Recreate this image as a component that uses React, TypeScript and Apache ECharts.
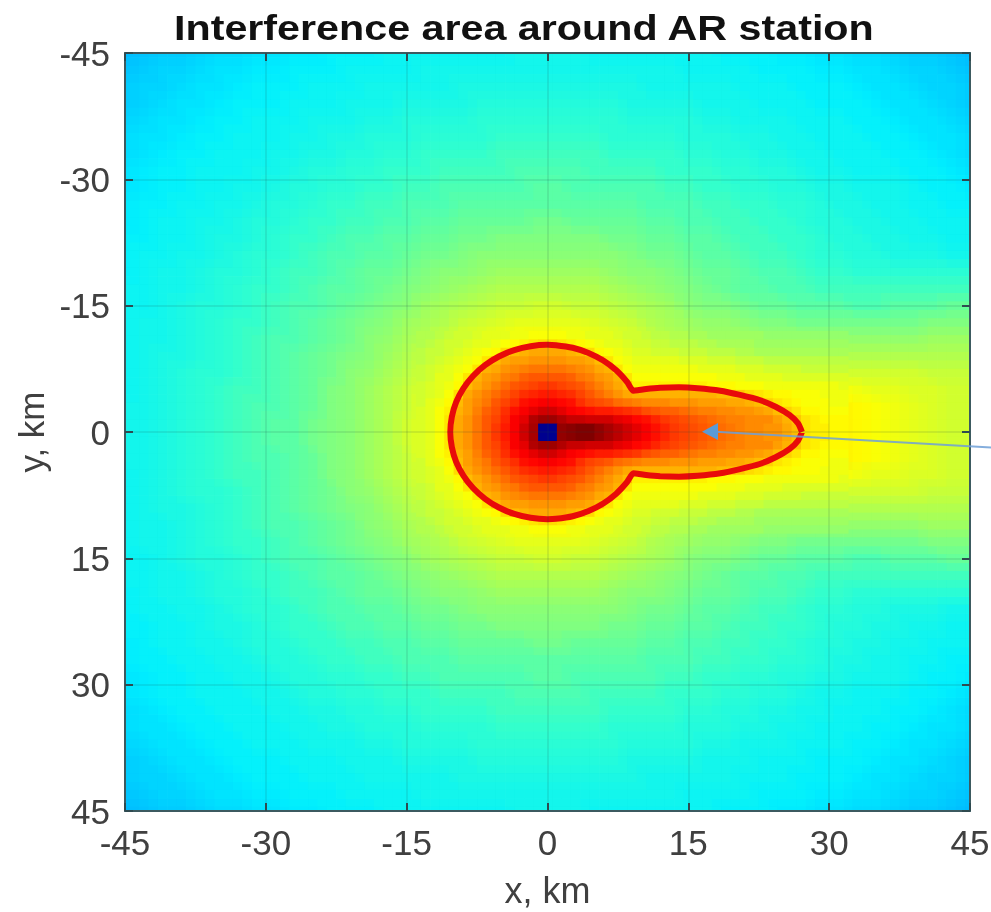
import React, { useEffect, useRef } from "react";
import * as echarts from "echarts";

const FONT = "'Liberation Sans', Arial, sans-serif";
const titleText = "Interference area around AR station";
const xName = "x, km";
const yName = "y, km";
const tickMin = -45;
const tickMax = 45;
const tickStep = 15;

// Jet colour stops, evenly spaced over the level range
const jetColors = ["#00008F", "#0000BF", "#0000FF", "#0040FF", "#0080FF", "#00BEFF", "#00F0FF", "#30FFCF", "#80FF80", "#BFFF40", "#FFFF00", "#FFBF00", "#FF8000", "#FF4000", "#FF0000", "#BF0000", "#800000"];

// Field level (0-100) in 2 km cells, rows from y=-46..-44 to y=-2..0, columns from x=-46 to x=46.
// The picture is symmetric about y=0, so each row stands for its mirror too.
const coarseCellKm = 2;
const coarseStart = -46;
const coarseRows = [
  [31,32,33,33,34,35,35,36,36,37,37,38,38,38,39,39,39,39,39,39,39,40,40,40,40,39,39,39,39,39,39,39,38,38,38,37,37,36,36,35,35,34,33,33,32,31],
  [32,33,34,34,35,36,36,37,37,38,38,38,39,39,39,39,40,40,40,40,40,40,40,40,40,40,40,40,40,40,39,39,39,39,38,38,38,37,37,36,36,35,34,34,33,32],
  [33,34,34,35,36,36,37,38,38,38,39,39,39,40,40,40,40,40,41,41,41,41,41,41,41,41,41,41,40,40,40,40,40,39,39,39,38,38,38,37,36,36,35,34,34,33],
  [33,34,35,36,36,37,38,38,38,39,39,39,40,40,40,41,41,41,41,42,42,42,42,42,42,42,42,41,41,41,41,40,40,40,39,39,39,38,38,38,37,36,36,35,34,33],
  [34,35,36,36,37,38,38,39,39,39,40,40,40,41,41,42,42,42,42,43,43,43,43,43,43,43,43,42,42,42,42,41,41,40,40,40,39,39,39,38,38,37,36,36,35,34],
  [35,36,36,37,38,38,39,39,39,40,40,41,41,42,42,42,43,43,43,43,44,44,44,44,44,44,43,43,43,43,42,42,42,41,41,40,40,39,39,39,38,38,37,36,36,35],
  [35,36,37,38,38,39,39,39,40,40,41,41,42,42,43,43,44,44,44,44,45,45,45,45,45,45,44,44,44,44,43,43,42,42,41,41,40,40,39,39,39,38,38,37,36,35],
  [36,37,38,38,39,39,39,40,40,41,42,42,43,43,44,44,44,45,45,45,45,46,46,46,46,45,45,45,45,44,44,44,43,43,42,42,41,40,40,39,39,39,38,38,37,36],
  [36,37,38,38,39,39,40,40,41,42,42,43,43,44,44,45,45,46,46,46,46,46,47,47,46,46,46,46,46,45,45,44,44,43,43,42,42,41,41,40,40,40,39,38,38,37],
  [37,38,38,39,39,40,40,41,42,42,43,44,44,45,45,46,46,46,47,47,47,47,47,47,47,47,47,47,46,46,46,45,45,44,44,43,43,42,41,41,40,40,39,39,38,38],
  [37,38,39,39,40,40,41,42,42,43,44,44,45,45,46,46,47,47,48,48,48,48,49,49,48,48,48,48,47,47,46,46,45,45,44,44,43,42,42,41,41,40,40,39,39,39],
  [38,38,39,39,40,41,41,42,43,44,44,45,46,46,47,47,48,48,49,49,50,50,50,50,50,50,49,49,48,48,47,47,46,45,45,44,44,43,42,42,41,41,40,40,39,39],
  [38,39,39,40,40,41,42,43,43,44,45,46,46,47,47,48,49,49,50,51,51,51,51,51,51,51,51,50,49,49,48,47,47,46,45,45,44,43,43,42,42,41,41,41,40,40],
  [38,39,40,40,41,42,42,43,44,45,45,46,47,48,48,49,50,51,51,52,53,53,53,53,53,53,52,51,51,50,49,48,48,47,46,46,45,44,44,43,43,43,43,43,43,43],
  [39,39,40,40,41,42,43,44,44,45,46,47,47,48,49,50,51,52,53,54,55,55,55,55,55,55,54,53,52,51,50,49,48,47,47,46,46,45,45,45,45,45,45,45,45,45],
  [39,39,40,41,42,42,43,44,45,46,46,47,48,49,50,51,53,54,55,56,57,57,58,58,57,57,56,55,54,53,51,50,50,49,48,48,47,47,47,46,46,47,47,47,48,48],
  [39,40,40,41,42,43,44,44,45,46,47,48,49,50,51,53,54,55,57,58,59,60,60,60,60,59,58,57,55,54,53,52,52,51,50,50,49,49,49,49,49,49,49,50,50,50],
  [39,40,40,41,42,43,44,45,46,46,47,48,49,51,52,54,55,57,59,60,61,62,63,63,62,61,60,59,57,55,54,53,53,53,52,52,52,52,52,52,52,52,52,53,53,53],
  [39,40,41,41,42,43,44,45,46,47,48,49,50,51,53,55,57,59,60,62,66,66,68,68,67,66,64,62,61,60,59,58,57,56,56,55,55,55,55,55,55,55,55,55,55,55],
  [39,40,41,42,43,43,44,45,46,47,48,49,51,52,54,56,58,60,62,66,70,72,74,74,72,70,68,66,65,64,63,62,61,60,59,59,59,58,58,58,58,58,58,57,57,57],
  [39,40,41,42,43,44,45,45,46,47,48,50,51,53,55,57,59,61,66,70,74,78,80,80,78,74,72,70,69,68,67,66,66,66,66,66,65,64,62,61,60,60,59,59,58,58],
  [40,40,41,42,43,44,45,46,46,47,48,50,51,53,55,57,60,62,66,72,78,84,90,90,84,80,78,76,74,72,71,70,69,68,67,66,65,65,64,63,62,61,60,59,58,58],
  [40,40,41,42,43,44,45,46,47,47,49,50,51,53,55,58,60,63,68,74,80,90,100,100,98,97,96,92,88,85,82,80,77,74,71,68,66,65,64,63,62,61,60,59,58,58],
];

// Field level in 1 km cells around the station: rows from y=-12..-11 to y=-1..0, columns from x=-14 to x=32.
const fineCellKm = 1;
const fineStartX = -14;
const fineStartY = -12;
const fineRows = [
  [55,55,56,57,58,58,59,60,60,60,61,61,62,62,62,62,61,61,60,60,60,59,58,58,57,56,56,55,55,54,54,53,53,53,53,53,53,52,52,52,52,52,52,52,52,52],
  [55,56,57,58,58,59,60,60,61,62,63,64,65,66,66,65,64,63,62,61,60,60,59,58,58,57,57,56,56,56,55,55,54,54,54,54,53,53,53,53,53,53,53,53,53,53],
  [56,57,57,58,59,60,61,62,63,66,69,70,71,71,71,71,70,69,66,63,62,61,60,59,59,58,58,58,57,57,57,56,56,56,55,55,54,54,54,54,54,54,54,54,54,54],
  [56,57,58,59,60,61,62,65,69,71,72,72,73,73,73,73,72,72,71,69,65,62,61,60,60,60,60,60,59,59,59,58,58,58,57,57,57,56,56,56,56,56,56,56,56,56],
  [57,58,59,60,61,62,65,70,71,73,74,75,76,76,76,76,75,74,73,71,70,65,62,61,61,61,61,61,61,61,60,60,60,60,59,59,59,58,58,58,58,57,57,57,57,57],
  [57,58,60,60,62,65,70,72,73,75,76,78,79,79,79,79,78,76,75,73,72,70,65,62,62,62,62,62,62,62,62,62,61,61,61,60,60,60,60,59,59,59,59,59,59,59],
  [58,59,60,61,63,69,71,73,75,77,79,80,81,82,82,81,80,79,77,75,73,71,69,64,64,64,64,64,64,64,64,63,63,63,62,62,62,61,61,61,61,61,61,61,61,60],
  [58,59,60,62,66,71,73,75,77,79,81,83,84,85,85,84,83,81,79,77,75,73,71,70,70,70,70,70,70,70,70,70,69,69,68,66,65,64,63,63,62,62,62,61,61,61],
  [58,60,61,63,69,72,74,76,79,81,83,86,87,88,88,87,86,83,81,80,79,77,76,75,74,74,74,73,73,73,72,72,72,71,71,70,69,67,65,64,63,62,62,62,61,61],
  [59,60,62,64,70,72,75,78,80,83,86,88,90,92,92,90,88,87,86,85,85,84,83,82,80,79,78,78,77,76,75,75,74,74,73,73,72,71,69,67,65,63,63,62,62,62],
  [59,60,62,65,71,73,76,79,81,84,88,90,95,97,97,95,93,93,92,92,92,90,89,87,86,84,82,81,80,79,78,77,76,75,75,74,74,74,72,70,68,65,64,63,63,63],
  [59,60,62,65,71,73,76,79,82,85,88,92,96,0,0,98,99,100,100,98,96,94,92,90,88,86,84,82,81,80,79,78,77,76,75,74,74,73,73,71,69,65,64,64,63,63],
];

// Red contour, read in km
const contourX = [27.1,26.7,25.8,24.3,22.6,20.5,18.4,16,14,12,10.5,9.6,9.14,8.48,7.32,5.94,4.37,2.68,0.9,0,-1.8,-3.54,-5.18,-6.65,-7.93,-8.96,-9.73,-10.19,-10.35,-10.19,-9.73,-8.96,-7.93,-6.65,-5.18,-3.54,-1.8,0,0.9,2.68,4.37,5.94,7.32,8.48,9.14,9.6,10.5,12,14,16,18.4,20.5,22.6,24.3,25.8,26.7,27.1];
const contourY = [0,-1,-2,-3,-3.8,-4.4,-4.9,-5.2,-5.3,-5.25,-5.1,-4.95,-4.9,-5.94,-7.32,-8.48,-9.38,-10,-10.31,-10.35,-10.19,-9.73,-8.96,-7.93,-6.65,-5.18,-3.54,-1.8,0,1.8,3.54,5.18,6.65,7.93,8.96,9.73,10.19,10.35,10.31,10,9.38,8.48,7.32,5.94,4.9,4.95,5.1,5.25,5.3,5.2,4.9,4.4,3.8,3,2,1,0];

function buildCells(rows: number[][], startX: number, startY: number, size: number) {
  const cells: number[][] = [];
  rows.forEach((row, r) => {
    const y0 = startY + r * size;
    row.forEach((v, c) => {
      const x0 = startX + c * size;
      cells.push([x0, x0 + size, y0, y0 + size, v]);
      cells.push([x0, x0 + size, -y0 - size, -y0, v]);
    });
  });
  return cells;
}

const makeRenderCell = (shiftKm: number, overlapPx: number, opacity: number) => (params: any, api: any) => {
  const a = api.coord([api.value(0) + shiftKm, api.value(2) + shiftKm]);
  const b = api.coord([api.value(1) + shiftKm, api.value(3) + shiftKm]);
  const rect = echarts.graphic.clipRectByRect(
    { x: a[0], y: a[1], width: b[0] - a[0] + overlapPx, height: b[1] - a[1] + overlapPx },
    params.coordSys,
  );
  if (!rect) return undefined;
  return { type: "rect", shape: rect, style: { fill: api.visual("color"), stroke: null, opacity } };
};

export default function App() {
  const ref = useRef<HTMLDivElement>(null);
  useEffect(() => {
    const chart = echarts.init(ref.current!, null, { renderer: "svg" });
    const coarse = buildCells(coarseRows, coarseStart, coarseStart, coarseCellKm);
    const fine = buildCells(fineRows, fineStartX, fineStartY, fineCellKm);
    const axisLabel = { color: "#404040", fontFamily: FONT, fontSize: 35 };
    const edge = { onZero: false, lineStyle: { color: "#3c5a60", width: 2 } };
    const ticks = { inside: true, length: 8, lineStyle: { color: "#2f4a50", width: 2 } };
    const gridLine = { show: true, lineStyle: { color: "rgba(30,60,60,0.11)", width: 2 } };
    const common = { type: "value", min: tickMin, max: tickMax, interval: tickStep, z: 5 };
    const cellSeries = { type: "custom", encode: { x: [0, 1], y: [2, 3] }, silent: true };
    chart.setOption({
      animation: false,
      backgroundColor: "#fff",
      grid: { left: 125, top: 53, width: 845, height: 758, containLabel: false, outerBoundsMode: "none" },
      xAxis: [
        {
          ...common,
          position: "bottom",
          name: xName,
          nameLocation: "middle",
          nameGap: 61,
          nameTextStyle: { color: "#404040", fontFamily: FONT, fontSize: 36 },
          axisLine: edge,
          axisTick: ticks,
          axisLabel: { ...axisLabel, margin: 14 },
          splitLine: gridLine,
        },
        {
          ...common,
          position: "top",
          axisLine: edge,
          axisTick: ticks,
          axisLabel: { show: false },
          splitLine: { show: false },
        },
      ],
      yAxis: [
        {
          ...common,
          inverse: true,
          position: "left",
          name: yName,
          nameLocation: "middle",
          nameGap: 72,
          nameTextStyle: { color: "#404040", fontFamily: FONT, fontSize: 35 },
          axisLine: edge,
          axisTick: ticks,
          axisLabel: { ...axisLabel, margin: 15 },
          splitLine: gridLine,
        },
        {
          ...common,
          inverse: true,
          position: "right",
          axisLine: edge,
          axisTick: ticks,
          axisLabel: { show: false },
          splitLine: { show: false },
        },
      ],
      visualMap: {
        show: false,
        type: "continuous",
        min: 0,
        max: 100,
        dimension: 4,
        seriesIndex: [0, 1, 2],
        inRange: { color: jetColors },
      },
      series: [
        { ...cellSeries, renderItem: makeRenderCell(-0.5, 0.6, 1), data: coarse, z: 1 },
        { ...cellSeries, renderItem: makeRenderCell(0.5, 0, 0.5), data: coarse, z: 1 },
        { ...cellSeries, renderItem: makeRenderCell(0, 0.6, 1), data: fine, z: 2 },
        {
          type: "line",
          data: contourX.map((x, i) => [x, contourY[i]]),
          showSymbol: false,
          smooth: 0.2,
          lineStyle: { color: "#E80A0A", width: 6 },
          z: 3,
          silent: true,
        },
      ],
      graphic: [
        {
          type: "text",
          x: 174,
          y: 9,
          scaleX: 1.146,
          z: 30,
          style: {
            text: titleText,
            fontFamily: FONT,
            fontWeight: "bold",
            fontSize: 36,
            fill: "#111",
          },
        },
        {
          type: "line",
          z: 20,
          shape: { x1: 991, y1: 447.5, x2: 716, y2: 431.8 },
          style: { stroke: "rgba(110,160,215,0.85)", lineWidth: 2 },
        },
        {
          type: "polygon",
          z: 21,
          shape: { points: [[702, 431.7], [718, 423], [718, 440]] },
          style: { fill: "#5B9BD5" },
        },
      ],
    });
    return () => chart.dispose();
  }, []);
  return (
    <div
      ref={ref}
      style={{ position: "absolute", left: 0, top: 0, width: 991, height: 912, filter: "blur(0.7px)" }}
    />
  );
}
